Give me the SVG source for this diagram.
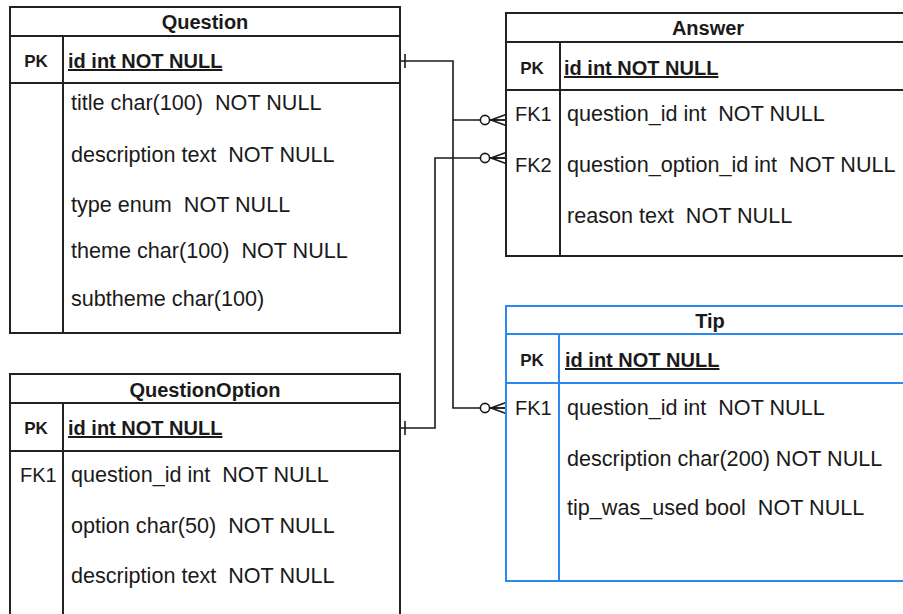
<svg xmlns="http://www.w3.org/2000/svg" width="903" height="614" viewBox="0 0 903 614">
<style>
  .box{fill:#fff;stroke:#222;stroke-width:2}
  .blue{fill:#fff;stroke:#2a88f0;stroke-width:2}
  .ln{stroke:#222;stroke-width:2;fill:none}
  .lnb{stroke:#2a88f0;stroke-width:2;fill:none}
  text{font-family:"Liberation Sans",Arial,sans-serif;fill:#1a1a1a;white-space:pre}
  .hd{font-size:20px;font-weight:bold;text-anchor:middle}
  .pk{font-size:17px;font-weight:bold;text-anchor:middle}
  .id{font-size:20px;font-weight:bold;text-decoration:underline}
  .f{font-size:21.6px}
  .fk{font-size:20px}
  .cn{stroke:#1a1a1a;stroke-width:1.6;fill:none}
</style>
<defs>
  <marker id="many" markerUnits="userSpaceOnUse" markerWidth="32" markerHeight="20" refX="28" refY="10" orient="auto" overflow="visible">
    <path d="M12 10 H28 M13 10 L28 4.5 M13 10 L28 15.5" stroke="#1a1a1a" stroke-width="1.6" fill="none"/>
    <circle cx="7" cy="10" r="4.6" fill="#fff" stroke="#1a1a1a" stroke-width="1.6"/>
  </marker>
  <marker id="one" markerUnits="userSpaceOnUse" markerWidth="12" markerHeight="14" refX="0" refY="7" orient="auto" overflow="visible">
    <path d="M5 0 V14" stroke="#1a1a1a" stroke-width="1.6" fill="none"/>
  </marker>
</defs>

<g id="connectors">
  <path class="cn" d="M400 61 H453 V408 H506" marker-start="url(#one)" marker-end="url(#many)"/>
  <path class="cn" d="M453 120 H506" marker-end="url(#many)"/>
  <path class="cn" d="M400 428 H435 V158 H506" marker-start="url(#one)" marker-end="url(#many)"/>
</g>

<g id="Question">
  <rect class="box" x="10" y="7" width="390" height="326"/>
  <path class="ln" d="M10 36 H400 M10 83 H400 M63 36 V333"/>
  <text class="hd" x="205" y="29">Question</text>
  <text class="pk" x="36" y="67">PK</text>
  <text class="id" x="68" y="68">id int NOT NULL</text>
  <text class="f" x="71" y="110" xml:space="preserve">title char(100)  NOT NULL</text>
  <text class="f" x="71" y="162" xml:space="preserve">description text  NOT NULL</text>
  <text class="f" x="71" y="212" xml:space="preserve">type enum  NOT NULL</text>
  <text class="f" x="71" y="258" xml:space="preserve">theme char(100)  NOT NULL</text>
  <text class="f" x="71" y="306">subtheme char(100)</text>
</g>

<g id="QuestionOption">
  <rect class="box" x="10" y="374" width="390" height="260"/>
  <path class="ln" d="M10 403 H400 M10 451 H400 M63 403 V620"/>
  <text class="hd" x="205" y="397">QuestionOption</text>
  <text class="pk" x="36" y="434">PK</text>
  <text class="id" x="68" y="435">id int NOT NULL</text>
  <text class="fk" x="20" y="482">FK1</text>
  <text class="f" x="71" y="482" xml:space="preserve">question_id int  NOT NULL</text>
  <text class="f" x="71" y="533" xml:space="preserve">option char(50)  NOT NULL</text>
  <text class="f" x="71" y="583" xml:space="preserve">description text  NOT NULL</text>
</g>

<g id="Answer">
  <rect class="box" x="506" y="13" width="420" height="243"/>
  <path class="ln" d="M506 42 H926 M506 90 H926 M560 42 V256"/>
  <text class="hd" x="708" y="35">Answer</text>
  <text class="pk" x="532" y="74">PK</text>
  <text class="id" x="564" y="75">id int NOT NULL</text>
  <text class="fk" x="515" y="121">FK1</text>
  <text class="f" x="567" y="121" xml:space="preserve">question_id int  NOT NULL</text>
  <text class="fk" x="515" y="172">FK2</text>
  <text class="f" x="567" y="172" xml:space="preserve">question_option_id int  NOT NULL</text>
  <text class="f" x="567" y="223" xml:space="preserve">reason text  NOT NULL</text>
</g>

<g id="Tip">
  <rect class="blue" x="506" y="306" width="420" height="275"/>
  <path class="lnb" d="M506 334 H926 M506 383 H926 M559 334 V581"/>
  <text class="hd" x="710" y="328">Tip</text>
  <text class="pk" x="532" y="366">PK</text>
  <text class="id" x="565" y="367">id int NOT NULL</text>
  <text class="fk" x="515" y="415">FK1</text>
  <text class="f" x="567" y="415" xml:space="preserve">question_id int  NOT NULL</text>
  <text class="f" x="567" y="466">description char(200) NOT NULL</text>
  <text class="f" x="567" y="515" xml:space="preserve">tip_was_used bool  NOT NULL</text>
</g>
</svg>
